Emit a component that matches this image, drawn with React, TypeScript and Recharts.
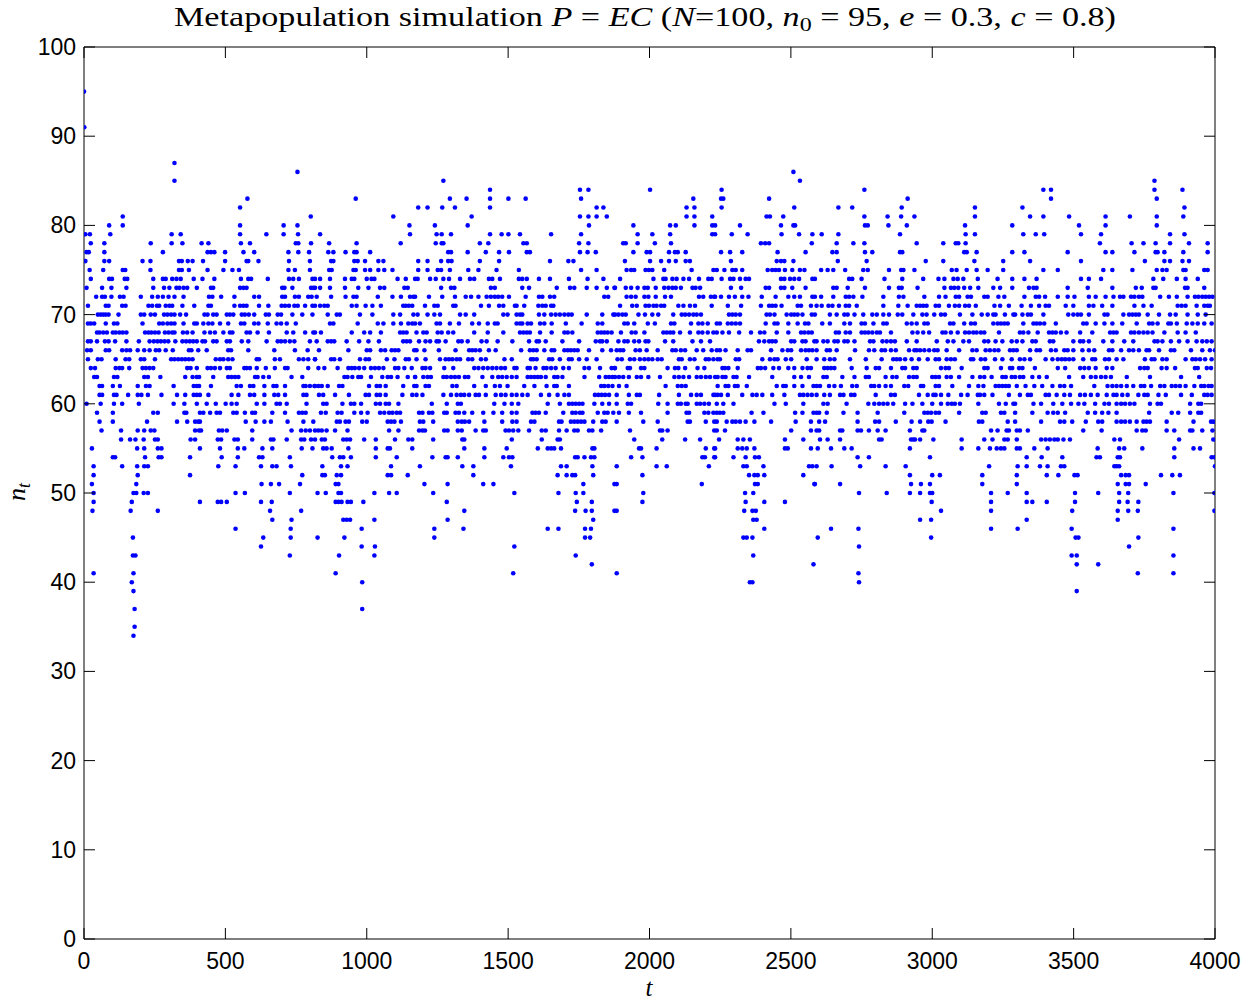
import React from 'react';
import { ScatterChart, Scatter, XAxis, YAxis } from 'recharts';

// Each row: [n_t, t, t, ...], strip by strip
const s1: number[][] = [
  [95, 0], [91, 1], [87, 320], [85, 320], [81, 137], [80, 89, 137],
  [79, 5, 21, 93, 310, 342], [78, 24, 72, 236, 310, 348], [77, 9, 17, 72, 279],
  [76, 5, 72, 89, 207, 235, 336, 346, 367, 384], [75, 20, 68, 137, 146, 235, 336, 346, 371],
  [74, 24, 89, 99, 144, 153, 245, 279, 289, 312, 327, 342, 388],
  [73, 9, 64, 97, 150, 245, 283, 302, 327, 337, 352, 365],
  [72, 43, 64, 74, 97, 127, 140, 201, 241, 261, 279, 299, 320, 352],
  [71, 14, 77, 87, 135, 147, 228, 241, 258, 266, 289, 302, 312, 348, 390],
  [70, 49, 59, 68, 77, 87, 122, 201, 213, 236, 251, 283, 295, 308, 320, 340, 361],
  [69, 14, 24, 36, 77, 106, 118, 207, 266, 279, 295, 308, 320, 352, 390],
  [68, 46, 55, 68, 81, 102, 112, 125, 137, 150, 216, 228, 238, 251, 264, 286, 299, 312, 320, 350, 365, 384],
  [67, 14, 24, 46, 74, 87, 110, 150, 194, 232, 247, 260, 272, 285, 298, 323, 348, 361, 374, 386],
  [66, 11, 24, 77, 89, 135, 150, 163, 190, 213, 232, 254, 266, 289, 314, 371, 380],
  [65, 14, 49, 62, 112, 147, 160, 201, 213, 251, 308, 320, 333, 346, 358, 371, 384],
  [64, 24, 39, 112, 125, 135, 160, 207, 219, 232, 245, 365, 377],
  [63, 36, 46, 106, 118, 213, 226, 270, 358, 384],
  [62, 55, 64, 102, 127, 190, 219, 232, 317, 388],
  [61, 55, 64, 106, 115, 156, 190, 203, 226, 274, 329, 358, 388],
  [60, 9, 59, 106, 135, 194, 317, 355], [59, 46, 102, 245, 261, 355, 362],
  [58, 55, 102, 223, 329, 365], [57, 62, 131, 190, 213, 236, 249],
  [56, 131, 163, 182, 211, 251, 261, 377], [55, 28, 188, 213, 261, 274],
  [54, 102, 110, 216, 264, 274, 375], [53, 34, 135, 188, 213, 226], [52, 34, 190, 375],
  [51, 28, 185], [50, 34, 175, 185, 211, 226], [49, 34, 169], [48, 30, 165, 261],
  [45, 173], [43, 173, 182], [41, 34, 175], [40, 169], [39, 175], [37, 179], [35, 179], [34, 175],
];

const s2: number[][] = [
  [86, 755], [83, 578], [82, 552], [81, 802], [80, 552, 706, 755], [79, 552, 645, 706, 757],
  [78, 416, 440, 555, 587, 749, 758, 803], [77, 437, 449, 461, 499, 564, 602, 723, 758, 796],
  [76, 421, 499, 575, 581, 617, 725, 799], [75, 437, 493, 525, 548, 723, 746, 799],
  [74, 419, 461, 555, 581, 591, 650, 725, 740, 760, 808],
  [73, 399, 449, 457, 552, 564, 575, 701, 709, 737, 803, 811],
  [72, 442, 454, 485, 532, 602, 619, 701, 711, 746, 760, 793, 805],
  [71, 440, 449, 532, 552, 564, 575, 619, 652, 699, 711, 725, 744, 756, 782, 808],
  [70, 426, 437, 457, 469, 505, 516, 528, 558, 569, 583, 602, 643, 654, 685, 697, 737, 772, 808],
  [69, 399, 422, 440, 454, 481, 510, 555, 567, 602, 617, 650, 681, 697, 717, 749],
  [68, 426, 446, 463, 493, 516, 525, 575, 587, 614, 654, 717, 740, 782, 811],
  [67, 399, 419, 428, 457, 469, 505, 516, 558, 581, 646, 685, 697, 711, 728, 744, 799],
  [66, 404, 434, 510, 520, 581, 673, 746, 791],
  [65, 466, 481, 493, 510, 525, 611, 619, 675, 693, 760, 776, 793, 817],
  [64, 399, 437, 449, 463, 481, 505, 516, 567, 575, 587, 611, 643, 675, 711, 720, 793],
  [63, 399, 407, 457, 510, 522, 534, 546, 605, 614, 634, 654, 734, 772],
  [62, 399, 407, 449, 540, 555, 587, 599, 638, 670, 681, 711, 776, 784, 799, 815],
  [61, 399, 410, 440, 522, 546, 587, 602, 638, 673, 687, 711, 776, 787],
  [60, 399, 434, 466, 501, 522, 540, 611, 638, 681, 693, 717, 787],
  [59, 410, 422, 446, 469, 481, 528, 540, 569, 595, 605, 666, 711, 760, 772, 784],
  [58, 393, 404, 410, 572, 607, 638, 661, 720, 776, 811],
  [57, 393, 407, 414, 477, 489, 505, 595, 734, 768, 784, 799],
  [56, 393, 473, 485, 532, 544, 595, 661, 670, 717, 768, 779, 803],
  [55, 410, 481, 544, 567, 631, 666, 770, 808], [54, 487, 544, 619, 631, 728],
  [53, 475, 536, 626, 666, 681, 732], [52, 772], [51, 628, 661, 690, 764], [50, 536, 569, 728],
  [49, 410, 473, 485, 505, 626, 664], [48, 658, 768], [47, 666, 734], [46, 536, 731],
  [45, 634, 731], [44, 626], [43, 728],
];

const s3: number[][] = [
  [83, 961], [81, 1094], [80, 1151], [79, 835, 1153], [78, 867, 964, 1120],
  [77, 864, 882, 925, 956, 964, 1012], [76, 874, 882, 956, 968, 994, 1041, 1059],
  [75, 867, 876, 953, 961, 994, 1012, 1041, 1062, 1091],
  [74, 817, 835, 870, 923, 947, 956, 1000, 1017, 1027, 1109, 1138, 1171],
  [73, 817, 835, 870, 923, 970, 1006, 1047, 1062, 1133, 1145],
  [72, 823, 874, 925, 953, 964, 1039, 1091, 1121, 1153, 1165],
  [71, 817, 835, 850, 862, 947, 964, 996, 1020, 1050, 1129, 1138, 1149, 1161],
  [70, 862, 894, 905, 976, 1020, 1094, 1118, 1165],
  [69, 870, 882, 968, 1039, 1059, 1094, 1121, 1147, 1161],
  [68, 817, 838, 947, 991, 1012, 1050, 1118, 1129, 1141],
  [67, 823, 862, 874, 885, 929, 973, 1006, 1043, 1129, 1141, 1153],
  [66, 831, 935, 1000, 1012, 1050, 1065, 1088, 1100, 1112, 1168],
  [65, 817, 874, 885, 905, 976, 996, 1008, 1071, 1098, 1138, 1149],
  [64, 829, 850, 897, 935, 947, 958, 973, 991, 1015, 1029, 1043, 1059, 1100, 1112, 1133, 1159],
  [63, 921, 932, 949, 970, 980, 1015, 1055, 1074, 1086, 1109, 1145, 1171],
  [62, 817, 829, 841, 862, 902, 914, 1008, 1035, 1047, 1067, 1129, 1168],
  [61, 831, 846, 888, 937, 996, 1008, 1035, 1047, 1067, 1126, 1161],
  [60, 846, 858, 914, 944, 956, 980, 1032, 1047, 1067, 1079, 1112],
  [59, 838, 855, 897, 911, 956, 980, 1003, 1047, 1062, 1079, 1091, 1106, 1118],
  [58, 894, 905, 925, 937, 984, 1000, 1074, 1086, 1098, 1121],
  [57, 817, 829, 841, 858, 888, 932, 1079, 1112],
  [56, 817, 841, 852, 917, 929, 941, 991, 1032, 1100, 1147, 1161],
  [55, 846, 858, 876, 935, 1032, 1074, 1082, 1161], [54, 878, 905, 917, 944, 1032, 1106],
  [53, 843, 909, 932, 1086], [52, 843, 852, 894, 909, 1074, 1086, 1145], [51, 890, 900],
  [50, 826, 855, 900, 909, 1027, 1079, 1106], [49, 890, 900, 911, 932, 944, 988],
  [47, 917, 929, 941, 1027], [46, 982], [45, 826, 921], [44, 982, 1029], [43, 902, 1027],
  [41, 890], [40, 984], [37, 984],
];

const s4: number[][] = [
  [85, 1271], [84, 1436], [83, 1294, 1353, 1436, 1501], [82, 1182, 1215, 1267, 1312, 1436],
  [81, 1371], [80, 1241, 1357], [79, 1247, 1265, 1298, 1436, 1477, 1501],
  [78, 1244, 1265, 1271, 1400, 1430], [77, 1288, 1298, 1357, 1421, 1468, 1503],
  [76, 1182, 1215, 1263, 1288, 1300, 1400, 1468],
  [75, 1182, 1215, 1251, 1263, 1294, 1359, 1395, 1459],
  [74, 1180, 1224, 1244, 1271, 1291, 1330, 1365, 1380, 1432, 1444, 1471],
  [73, 1263, 1298, 1310, 1439, 1453],
  [72, 1171, 1220, 1267, 1312, 1350, 1369, 1395, 1424, 1439, 1453, 1465, 1479, 1503],
  [71, 1206, 1239, 1251, 1306, 1314, 1404, 1432, 1468, 1483, 1524],
  [70, 1180, 1215, 1239, 1259, 1330, 1350, 1380, 1483, 1498],
  [69, 1171, 1188, 1247, 1259, 1294, 1326, 1373, 1397, 1428, 1453, 1463],
  [68, 1176, 1200, 1212, 1251, 1265, 1288, 1306, 1380, 1428, 1483],
  [67, 1185, 1208, 1224, 1247, 1255, 1279, 1324, 1336, 1357, 1406, 1424, 1463, 1515],
  [66, 1176, 1204, 1255, 1314, 1362, 1373, 1385, 1400, 1432, 1456],
  [65, 1176, 1208, 1259, 1279, 1291, 1303, 1318, 1330, 1359, 1373, 1404, 1421, 1487, 1513],
  [64, 1197, 1208, 1224, 1274, 1306, 1380, 1395, 1412, 1428, 1444, 1459, 1475, 1489, 1522],
  [63, 1171, 1200, 1215, 1227, 1271, 1283, 1298, 1312, 1326, 1347, 1359, 1409, 1444, 1465, 1479, 1495, 1513],
  [62, 1176, 1208, 1220, 1303, 1318, 1380, 1421, 1453, 1471, 1498],
  [61, 1176, 1197, 1271, 1298, 1318, 1333, 1345, 1362, 1385, 1397, 1421, 1456, 1475, 1491, 1513],
  [60, 1230, 1283, 1322, 1333, 1451, 1487, 1513],
  [59, 1185, 1197, 1220, 1232, 1274, 1283, 1314, 1326, 1345, 1373, 1412, 1448, 1479, 1513],
  [58, 1188, 1200, 1235, 1322, 1336, 1347, 1362, 1416, 1479, 1515],
  [57, 1185, 1197, 1206, 1274, 1286, 1322, 1336, 1385, 1412, 1421, 1491, 1503, 1518],
  [56, 1235, 1338, 1345, 1513], [55, 1345, 1416, 1495],
  [54, 1232, 1279, 1286, 1322, 1416, 1483, 1503, 1515], [53, 1188, 1338, 1377, 1510],
  [52, 1377], [51, 1204, 1286, 1412, 1448], [50, 1235, 1522], [49, 1283], [48, 1345],
  [47, 1286], [46, 1239, 1342], [45, 1239], [44, 1522], [41, 1518],
];

const s5: number[][] = [
  [84, 1754, 1784], [83, 1562, 1758], [82, 1813, 1837], [81, 1754, 1784, 1813, 1849], [80, 1786],
  [79, 1542, 1652, 1758], [78, 1554, 1566, 1751, 1784], [77, 1566, 1577, 1754, 1781, 1810],
  [76, 1648, 1713, 1731], [75, 1538, 1758, 1813],
  [74, 1538, 1550, 1566, 1609, 1648, 1715, 1781, 1837],
  [73, 1550, 1574, 1672, 1719, 1734, 1778, 1813, 1849, 1876],
  [72, 1562, 1609, 1621, 1648, 1663, 1840, 1854],
  [71, 1530, 1557, 1607, 1621, 1633, 1652, 1660],
  [70, 1530, 1542, 1550, 1609, 1628, 1652, 1668, 1683, 1699, 1713, 1725, 1778, 1833, 1872],
  [69, 1530, 1542, 1550, 1569, 1581, 1613, 1628, 1654, 1704, 1760, 1817, 1833],
  [68, 1542, 1554, 1566, 1577, 1613, 1654, 1699, 1711, 1727, 1817, 1829, 1840, 1852, 1866],
  [67, 1574, 1601, 1609, 1633, 1692, 1751, 1810, 1825, 1833, 1849],
  [66, 1546, 1577, 1589, 1601, 1628, 1654, 1663, 1699, 1711, 1722, 1734, 1746, 1786, 1833, 1864],
  [65, 1581, 1589, 1601, 1645, 1656, 1683, 1715, 1725, 1751, 1778, 1813],
  [64, 1530, 1569, 1577, 1597, 1625, 1636, 1652, 1668, 1695, 1715, 1770, 1786, 1825, 1866, 1876],
  [63, 1530, 1569, 1581, 1593, 1605, 1616, 1633, 1663, 1675, 1692, 1770, 1822, 1845, 1857, 1869],
  [62, 1557, 1593, 1636, 1663, 1672, 1715, 1829, 1840, 1854, 1869],
  [61, 1530, 1550, 1569, 1616, 1645, 1675, 1699, 1715, 1807, 1819, 1831, 1843, 1857],
  [60, 1536, 1640, 1683, 1715, 1727, 1739, 1751, 1763, 1805, 1833, 1857],
  [59, 1530, 1586, 1597, 1609, 1633, 1695, 1727, 1739, 1754, 1763, 1817, 1840, 1852, 1872],
  [58, 1530, 1581, 1593, 1680, 1689, 1722, 1734, 1746, 1758, 1770, 1801, 1833, 1845],
  [57, 1536, 1574, 1619, 1633, 1680, 1707, 1734, 1746, 1786, 1798, 1829],
  [56, 1619, 1675, 1683], [55, 1605, 1640, 1652, 1663, 1687, 1798, 1805],
  [54, 1737, 1746, 1770, 1793, 1805], [53, 1687, 1707, 1798], [52, 1675, 1707, 1727, 1737, 1801],
  [51, 1766, 1876], [50, 1678, 1739, 1766], [49, 1743, 1796], [48, 1737, 1774, 1796, 1876],
  [47, 1801], [46, 1640, 1678, 1772, 1793], [45, 1772, 1790], [43, 1739], [42, 1796],
];

const s6: number[][] = [
  [84, 2002], [83, 2155], [82, 2131, 2159], [81, 2131, 2159, 2222],
  [80, 1943, 2073, 2093, 2159, 2222], [79, 1958, 2010, 2073, 2222],
  [78, 1907, 1916, 1958, 2019, 2076], [77, 1943, 1990, 2002, 2069, 2090, 2100, 2128],
  [76, 1913, 2002, 2041, 2069, 2093, 2128, 2143],
  [75, 1919, 1935, 1946, 1986, 1998, 2010, 2052, 2149, 2226],
  [74, 1896, 2014, 2049, 2057, 2081, 2096, 2120, 2140, 2175, 2208, 2220],
  [73, 1878, 1916, 1935, 1958, 1982, 1994, 2022, 2052, 2067, 2081, 2093, 2111, 2152, 2163, 2179],
  [72, 1919, 1935, 1951, 1982, 1996, 2022, 2055, 2076, 2175, 2190, 2217, 2229],
  [71, 1896, 1939, 1955, 1986, 1998, 2014, 2025, 2041, 2052, 2102, 2120, 2143, 2161, 2220],
  [70, 1878, 1890, 1904, 1916, 1961, 1984, 2010, 2031, 2084, 2114, 2126, 2140, 2155, 2167, 2182],
  [69, 1911, 1923, 1946, 1994, 2019, 2076, 2088, 2147, 2173, 2187, 2206],
  [68, 1899, 1937, 1951, 1982, 2049, 2061, 2073, 2084, 2108, 2143, 2173, 2187, 2206, 2226],
  [67, 1890, 1911, 1923, 1946, 1963, 1986, 1996, 2055, 2084, 2152, 2182, 2214],
  [66, 1884, 1896, 1907, 1951, 1966, 1990, 2029, 2081, 2093, 2111, 2126, 2167, 2190, 2220],
  [65, 1887, 1902, 1931, 1946, 1966, 1982, 1996, 2010, 2029, 2043, 2104, 2114, 2143, 2159, 2199, 2210, 2226],
  [64, 1878, 1923, 1931, 1970, 1982, 2064, 2090, 2102, 2126, 2170, 2194],
  [63, 1878, 1892, 1907, 1927, 1955, 1970, 1996, 2037, 2088, 2104, 2120, 2140, 2167, 2182, 2199, 2214],
  [62, 1892, 1919, 2057, 2100, 2114, 2128],
  [61, 1884, 1927, 1955, 1966, 2034, 2104, 2147, 2167, 2182, 2226],
  [60, 1884, 1923, 1935, 2031, 2064, 2100, 2111, 2128, 2135, 2167, 2179, 2194, 2210],
  [59, 1892, 1927, 1970, 2064, 2131, 2140, 2194, 2208, 2226],
  [58, 1884, 1978, 2029, 2135, 2143, 2199, 2229], [57, 1931, 2037, 2045, 2064, 2229],
  [56, 1946, 2045, 2126, 2179], [55, 1963, 1970, 2025, 2199, 2229],
  [54, 1935, 1975, 2187, 2196, 2229], [53, 1884, 2025, 2061, 2210], [52, 1975],
  [51, 1884, 2185], [50, 1978], [49, 1975], [48, 1884], [41, 1884],
];

const s7: number[][] = [
  [86, 2509], [85, 2532], [84, 2255], [83, 2253, 2261, 2423], [82, 2255, 2512],
  [81, 2414, 2426, 2473], [80, 2232, 2320, 2465, 2509, 2515],
  [79, 2232, 2291, 2347, 2467, 2529, 2576], [78, 2394, 2409, 2423, 2574],
  [77, 2253, 2285, 2328, 2453, 2552], [76, 2288, 2450, 2465, 2477, 2509],
  [75, 2238, 2265, 2293, 2305, 2328, 2418, 2434, 2446, 2458, 2479, 2505, 2532, 2548],
  [74, 2255, 2285, 2297, 2320, 2340, 2352, 2465, 2477, 2497, 2512, 2529, 2576],
  [73, 2288, 2324, 2411, 2423, 2465, 2477, 2505, 2552],
  [72, 2232, 2253, 2281, 2302, 2328, 2350, 2397, 2446, 2491, 2512, 2532, 2576],
  [71, 2277, 2324, 2394, 2423, 2434, 2446, 2467, 2524, 2536, 2571],
  [70, 2281, 2293, 2305, 2320, 2414, 2426, 2442, 2485, 2501, 2512, 2524, 2541, 2574],
  [69, 2238, 2249, 2277, 2291, 2305, 2320, 2411, 2442, 2453, 2491, 2524, 2550, 2562],
  [68, 2238, 2258, 2281, 2317, 2359, 2391, 2406, 2450, 2491, 2536, 2548, 2562, 2574],
  [67, 2387, 2406, 2423, 2434, 2446, 2501, 2512, 2541, 2552, 2583],
  [66, 2238, 2249, 2269, 2312, 2347, 2359, 2430, 2470, 2489, 2501, 2536, 2552, 2564, 2576],
  [65, 2241, 2249, 2305, 2317, 2399, 2426, 2442, 2453, 2482, 2501, 2556],
  [64, 2258, 2267, 2279, 2312, 2383, 2394, 2409, 2438, 2458, 2491, 2512, 2541, 2559, 2571],
  [63, 2232, 2241, 2258, 2269, 2297, 2308, 2352, 2434, 2512, 2536, 2564],
  [62, 2241, 2269, 2279, 2302, 2312, 2344, 2450, 2473, 2482, 2512, 2541, 2580],
  [61, 2232, 2241, 2253, 2277, 2328, 2364, 2379, 2399, 2434, 2477, 2532, 2544, 2559, 2574],
  [60, 2238, 2261, 2297, 2442, 2482, 2544],
  [59, 2238, 2249, 2261, 2361, 2403, 2515, 2541, 2580],
  [58, 2238, 2273, 2293, 2305, 2320, 2340, 2371, 2430, 2517, 2571],
  [57, 2238, 2267, 2501, 2571], [56, 2246, 2312, 2332, 2355, 2479, 2544],
  [55, 2232, 2312, 2328, 2344, 2371, 2479, 2489, 2571], [54, 2232, 2297, 2340, 2373, 2387],
  [53, 2332, 2344, 2403, 2564, 2576], [52, 2352, 2371, 2383, 2406, 2544],
  [51, 2373, 2383, 2583], [50, 2338, 2367], [49, 2340, 2406, 2479], [48, 2335, 2364, 2376],
  [47, 2367, 2379], [46, 2406], [45, 2332, 2344, 2364], [43, 2367], [42, 2580], [40, 2355, 2364],
];

const s8: number[][] = [
  [84, 2760], [83, 2913], [82, 2668, 2717, 2892], [81, 2760, 2842, 2890, 2937],
  [80, 2762, 2772, 2845, 2910], [79, 2609, 2668, 2886], [78, 2662, 2721, 2760],
  [77, 2647, 2662, 2762, 2788, 2886, 2894], [76, 2666, 2768],
  [75, 2607, 2630, 2650, 2692, 2756, 2772, 2847, 2890, 2898, 2937],
  [74, 2585, 2706, 2717, 2750, 2831, 2894], [73, 2650, 2662, 2701, 2762, 2847, 2882, 2892],
  [72, 2585, 2607, 2650, 2694, 2706, 2721, 2753, 2827, 2882, 2898],
  [71, 2591, 2609, 2633, 2647, 2670, 2694, 2706, 2733, 2827, 2880, 2913],
  [70, 2585, 2638, 2662, 2689, 2701, 2725, 2756, 2788, 2804, 2827, 2847, 2878, 2894, 2933],
  [69, 2611, 2638, 2689, 2709, 2750, 2762, 2792, 2827, 2839, 2910, 2927],
  [68, 2659, 2670, 2694, 2709, 2750, 2762, 2774, 2788, 2804, 2815, 2854, 2930],
  [67, 2591, 2615, 2630, 2654, 2666, 2689, 2701, 2725, 2780, 2792, 2824, 2839, 2854, 2868, 2910],
  [66, 2591, 2627, 2638, 2662, 2727, 2776, 2795, 2821, 2833, 2854, 2871, 2918, 2937],
  [65, 2591, 2618, 2638, 2654, 2709, 2765, 2821, 2862, 2874, 2886, 2904, 2927],
  [64, 2618, 2630, 2642, 2654, 2715, 2768, 2800, 2812, 2854, 2894, 2904, 2933],
  [63, 2615, 2627, 2682, 2725, 2765, 2776, 2835, 2859, 2874, 2918, 2933],
  [62, 2591, 2603, 2635, 2654, 2677, 2717, 2733, 2784, 2795, 2812, 2835, 2854, 2901, 2915],
  [61, 2591, 2618, 2638, 2674, 2686, 2713, 2725, 2800, 2854, 2868],
  [60, 2615, 2630, 2697, 2774, 2795, 2812, 2827, 2842, 2862, 2904, 2930],
  [59, 2591, 2600, 2627, 2686, 2736, 2807, 2901], [58, 2600, 2621, 2736, 2798, 2812, 2871, 2927],
  [57, 2591, 2600, 2674, 2682, 2736, 2748, 2776, 2807, 2835, 2921],
  [56, 2603, 2630, 2674, 2812, 2821, 2925, 2933], [55, 2595, 2642, 2689, 2715, 2921],
  [54, 2736, 2776], [53, 2591, 2644, 2745, 2835, 2906], [52, 2921], [51, 2585, 2674, 2925],
  [50, 2741, 2839, 2921], [46, 2642, 2739], [45, 2595], [44, 2741], [41, 2739], [40, 2741],
];

const s9: number[][] = [
  [82, 3151], [81, 3151], [80, 3116, 3283], [79, 3118, 3151], [78, 2945, 3039, 3083, 3092, 3118],
  [77, 3113, 3122, 3157, 3283], [76, 2977, 3039, 3149, 3251],
  [75, 3069, 3086, 3122, 3157, 3196, 3251],
  [74, 2968, 3022, 3043, 3075, 3090, 3110, 3161, 3231, 3283],
  [73, 2948, 3043, 3066, 3078, 3092, 3113, 3134, 3163, 3216, 3240, 3283],
  [72, 2972, 3024, 3047, 3083, 3095, 3125, 3137, 3184, 3196, 3234, 3255],
  [71, 2945, 2957, 2968, 2980, 3012, 3024, 3059, 3080, 3095, 3116, 3130, 3154, 3220, 3240, 3271],
  [70, 2965, 2980, 3007, 3031, 3045, 3098, 3142, 3175, 3196, 3216, 3224, 3257, 3287],
  [69, 2945, 2972, 2984, 3063, 3075, 3113, 3137, 3151, 3216, 3231, 3243, 3255, 3267],
  [68, 2948, 2968, 2989, 3036, 3047, 3066, 3090, 3116, 3130, 3145, 3157, 3172, 3184, 3236],
  [67, 2945, 3016, 3055, 3075, 3110, 3130, 3184, 3198, 3224, 3248, 3281],
  [66, 2945, 2957, 2972, 2989, 3007, 3019, 3051, 3095, 3142, 3157, 3189, 3204, 3220, 3234, 3275, 3287],
  [65, 2953, 2984, 3012, 3024, 3051, 3066, 3080, 3137, 3145, 3172, 3187, 3222, 3248, 3281],
  [64, 2945, 3031, 3047, 3059, 3104, 3184, 3196, 3243, 3275, 3283],
  [63, 2945, 3000, 3012, 3024, 3051, 3066, 3095, 3142, 3169, 3184, 3210, 3248, 3260, 3281],
  [62, 2960, 2968, 3012, 3024, 3071, 3130, 3163, 3181, 3224, 3236, 3248, 3260, 3271],
  [61, 2953, 2984, 3004, 3012, 3031, 3057, 3102, 3125, 3161, 3169, 3184, 3213, 3271],
  [60, 2965, 3000, 3031, 3055, 3069, 3080, 3098, 3163, 3236, 3260, 3287],
  [59, 2972, 2984, 2996, 3012, 3024, 3095, 3177, 3189, 3243, 3255],
  [58, 2957, 2986, 2998, 3047, 3165, 3177, 3267], [57, 2965, 2972, 3208, 3231, 3263, 3271],
  [56, 2939, 2957, 3004, 3104, 3184, 3213, 3255, 3267], [55, 3104, 3163, 3204, 3228, 3243, 3255],
  [54, 2992], [53, 3201], [52, 3000, 3027, 3177], [51, 2960, 2992, 3177],
  [50, 2957, 2992, 3000, 3208, 3267], [49, 2998, 3208], [48, 3031, 3208], [47, 2957, 2996],
  [46, 3208], [45, 2996],
];

const s10: number[][] = [
  [84, 3393, 3420], [83, 3420], [82, 3319], [81, 3346, 3393, 3484, 3613], [80, 3519, 3613],
  [79, 3322, 3366, 3396, 3526, 3597], [78, 3593], [77, 3326, 3479, 3613, 3637], [76, 3346, 3526],
  [75, 3393, 3444, 3605, 3637], [74, 3326, 3369, 3526, 3554, 3597],
  [73, 3342, 3358, 3369, 3479, 3550, 3637],
  [72, 3326, 3366, 3378, 3399, 3444, 3479, 3503, 3554, 3578, 3613, 3641],
  [71, 3316, 3349, 3378, 3401, 3413, 3472, 3499, 3554, 3570, 3601, 3637],
  [70, 3293, 3319, 3338, 3349, 3393, 3481, 3499, 3514, 3526, 3554, 3609, 3620],
  [69, 3322, 3358, 3369, 3381, 3396, 3437, 3534, 3546, 3578, 3609, 3637],
  [68, 3310, 3322, 3340, 3373, 3413, 3425, 3437, 3455, 3475, 3523, 3566, 3629, 3641],
  [67, 3299, 3319, 3354, 3366, 3416, 3428, 3499, 3523, 3534, 3554, 3605, 3637],
  [66, 3299, 3346, 3369, 3381, 3420, 3437, 3467, 3479, 3499, 3531, 3554, 3573, 3625, 3637],
  [65, 3310, 3326, 3346, 3401, 3425, 3444, 3458, 3470, 3484, 3499, 3534, 3566, 3576, 3611, 3625],
  [64, 3307, 3319, 3363, 3444, 3470, 3523, 3538, 3554, 3578, 3617, 3637],
  [63, 3293, 3310, 3322, 3354, 3378, 3405, 3484, 3534, 3561, 3578, 3597, 3613, 3632],
  [62, 3299, 3330, 3361, 3389, 3425, 3452, 3467, 3491, 3573, 3620, 3637],
  [61, 3310, 3338, 3349, 3401, 3413, 3440, 3467, 3487, 3523, 3540, 3561, 3585, 3617, 3641],
  [60, 3293, 3358, 3385, 3428, 3460, 3491, 3517, 3538, 3576, 3609, 3625],
  [59, 3293, 3354, 3408, 3428, 3444, 3470, 3550, 3576, 3601, 3623],
  [58, 3293, 3385, 3452, 3467, 3495, 3543, 3587, 3601], [57, 3299, 3310, 3338, 3534, 3599],
  [56, 3299, 3385, 3401, 3416, 3432, 3444, 3464, 3487, 3644], [55, 3299, 3310, 3361, 3408, 3585],
  [54, 3334, 3387, 3460, 3581, 3593], [53, 3302, 3334, 3381, 3408, 3455, 3467, 3644],
  [52, 3299, 3405, 3446, 3503, 3514], [51, 3299], [50, 3334, 3505, 3587],
  [49, 3334, 3354, 3405, 3505], [48, 3495], [47, 3334], [46, 3302, 3493], [45, 3507, 3517],
  [43, 3493, 3511], [42, 3511, 3587], [39, 3511],
];

const s11: number[][] = [
  [85, 3786], [84, 3786, 3885], [83, 3794], [82, 3892], [81, 3699, 3794, 3888], [80, 3794],
  [79, 3841, 3892], [78, 3705, 3747, 3790, 3841, 3908, 3974],
  [77, 3715, 3790, 3797, 3821, 3888, 3974], [76, 3752, 3821, 3841, 3885, 3908],
  [75, 3708, 3794, 3814, 3829, 3888, 3896, 3962, 3974], [74, 3782, 3817, 3865, 3896, 3939],
  [73, 3720, 3741, 3782, 3790, 3894, 3903, 3962],
  [72, 3664, 3676, 3703, 3715, 3731, 3743, 3806, 3837, 3865, 3903, 3929, 3941, 3955, 3967, 3979, 3991],
  [71, 3715, 3747, 3776, 3868, 3882, 3896, 3935, 3962, 3974, 3982],
  [70, 3676, 3696, 3708, 3720, 3731, 3762, 3802, 3841, 3861, 3903, 3939, 3967],
  [69, 3672, 3723, 3767, 3779, 3797, 3835, 3844, 3865, 3900, 3920, 3939, 3962, 3988],
  [68, 3652, 3703, 3715, 3731, 3747, 3762, 3779, 3821, 3868, 3896, 3932],
  [67, 3679, 3711, 3786, 3797, 3814, 3844, 3873, 3903, 3935, 3955, 3971, 3988],
  [66, 3668, 3696, 3711, 3731, 3758, 3767, 3802, 3844, 3856, 3915, 3955, 3982, 4000],
  [65, 3652, 3676, 3752, 3776, 3786, 3814, 3829, 3896, 3920, 3932, 3947, 3965, 3988],
  [64, 3735, 3750, 3762, 3811, 3829, 3859, 3929, 3939, 3971, 3986], [63, 3688, 3770, 3880, 3944],
  [62, 3652, 3668, 3688, 3711, 3738, 3750, 3774, 3806, 3821, 3847, 3861, 3876, 3896, 3927, 3951, 3962, 3977, 3988],
  [61, 3652, 3672, 3691, 3729, 3750, 3762, 3800, 3826, 3880, 3918, 3962, 3974, 3988],
  [60, 3652, 3668, 3682, 3699, 3715, 3770, 3797, 3809, 3912, 3941, 3951],
  [59, 3652, 3767, 3847, 3870, 3912, 3941, 3951],
  [58, 3652, 3668, 3682, 3699, 3723, 3747, 3758, 3770, 3829, 3924, 3986, 3994],
  [57, 3723, 3743, 3755, 3829, 3856, 3912, 3920, 3955, 3991], [56, 3664, 3873, 3994],
  [55, 3661, 3679, 3743, 3856, 3924, 3947], [54, 3656, 3664, 3856, 3988, 3998],
  [53, 3652, 3661, 4000], [52, 3668, 3684, 3696, 3809, 3849, 3876], [51, 3656, 3684, 3696, 3755],
  [50, 3661, 3693, 3853, 3998], [49, 3661, 3691, 3729], [48, 3656, 3693, 3727, 3998], [47, 3656],
  [46, 3853], [45, 3729], [44, 3696], [43, 3853], [41, 3727, 3853],
];

const xTicks = [0, 500, 1000, 1500, 2000, 2500, 3000, 3500, 4000];
const yTicks = [0, 10, 20, 30, 40, 50, 60, 70, 80, 90, 100];

const strips = [s1, s2, s3, s4, s5, s6, s7, s8, s9, s10, s11];
const points = strips.flatMap((rows) =>
  rows.flatMap(([n, ...ts]) => ts.map((t) => ({ t, n })))
);

const SANS = '"Liberation Sans", Arial, Helvetica, sans-serif';
const SERIF = '"Liberation Serif", "Times New Roman", serif';
const TICK = 11;

const BottomTick = (p: any) => (
  <g>
    <line x1={p.x} y1={p.y} x2={p.x} y2={p.y - TICK} stroke="#000" strokeWidth={1} />
    <text x={p.x} y={p.y + 30} textAnchor="middle" fontFamily={SANS} fontSize={23} fill="#000">
      {p.payload.value}
    </text>
  </g>
);
const TopTick = (p: any) => (
  <line x1={p.x} y1={p.y} x2={p.x} y2={p.y + TICK} stroke="#000" strokeWidth={1} />
);
const LeftTick = (p: any) => (
  <g>
    <line x1={p.x} y1={p.y} x2={p.x + TICK} y2={p.y} stroke="#000" strokeWidth={1} />
    <text x={p.x - 8} y={p.y + 8} textAnchor="end" fontFamily={SANS} fontSize={23} fill="#000">
      {p.payload.value}
    </text>
  </g>
);
const RightTick = (p: any) => (
  <line x1={p.x} y1={p.y} x2={p.x - TICK} y2={p.y} stroke="#000" strokeWidth={1} />
);

const Dot = (p: any) => <circle cx={p.cx} cy={p.cy} r={2.3} fill="#0000ff" />;
const NoDot = () => <g />;

export default function App() {
  return (
    <div style={{ position: 'absolute', left: 0, top: 0, width: 1245, height: 1002, background: '#fff' }}>
      <ScatterChart width={1245} height={1002} margin={{ top: 46, right: 29, bottom: 0, left: 0 }}>
        <XAxis
          xAxisId="b" type="number" dataKey="t" domain={[0, 4000]} ticks={xTicks} interval={0}
          allowDataOverflow height={63} tickSize={0} tickMargin={0} tickLine={false}
          axisLine={{ stroke: '#000', strokeWidth: 1 }} tick={BottomTick}
        />
        <XAxis
          xAxisId="top" orientation="top" type="number" dataKey="t" domain={[0, 4000]} ticks={xTicks}
          interval={0} allowDataOverflow height={1} tickSize={0} tickMargin={0} tickLine={false}
          axisLine={{ stroke: '#000', strokeWidth: 1 }} tick={TopTick}
        />
        <YAxis
          yAxisId="l" type="number" dataKey="n" domain={[0, 100]} ticks={yTicks} interval={0}
          allowDataOverflow width={84} tickSize={0} tickMargin={0} tickLine={false}
          axisLine={{ stroke: '#000', strokeWidth: 1 }} tick={LeftTick}
        />
        <YAxis
          yAxisId="r" orientation="right" type="number" dataKey="n" domain={[0, 100]} ticks={yTicks}
          interval={0} allowDataOverflow width={1} tickSize={0} tickMargin={0} tickLine={false}
          axisLine={{ stroke: '#000', strokeWidth: 1 }} tick={RightTick}
        />
        <Scatter data={points} xAxisId="top" yAxisId="r" shape={NoDot} isAnimationActive={false} />
        <Scatter data={points} xAxisId="b" yAxisId="l" shape={Dot} isAnimationActive={false} />
        <text x={645} y={26} textAnchor="middle" fontFamily={SERIF} fontSize={27} fill="#000"
          textLength={942} lengthAdjust="spacingAndGlyphs">
          Metapopulation simulation <tspan fontStyle="italic">P</tspan> = <tspan fontStyle="italic">EC</tspan> (<tspan fontStyle="italic">N</tspan>=100, <tspan fontStyle="italic">n</tspan><tspan fontSize={19} dy={5}>0</tspan><tspan dy={-5}> = 95, </tspan><tspan fontStyle="italic">e</tspan> = 0.3, <tspan fontStyle="italic">c</tspan> = 0.8)
        </text>
        <text x={649} y={996} textAnchor="middle" fontFamily={SERIF} fontSize={25} fontStyle="italic" fill="#000">
          t
        </text>
        <text x={25} y={492} textAnchor="middle" fontFamily={SERIF} fontSize={26} fill="#000"
          transform="rotate(-90 25 492)">
          <tspan fontStyle="italic">n</tspan><tspan fontStyle="italic" fontSize={18} dy={5}>t</tspan>
        </text>
      </ScatterChart>
    </div>
  );
}
